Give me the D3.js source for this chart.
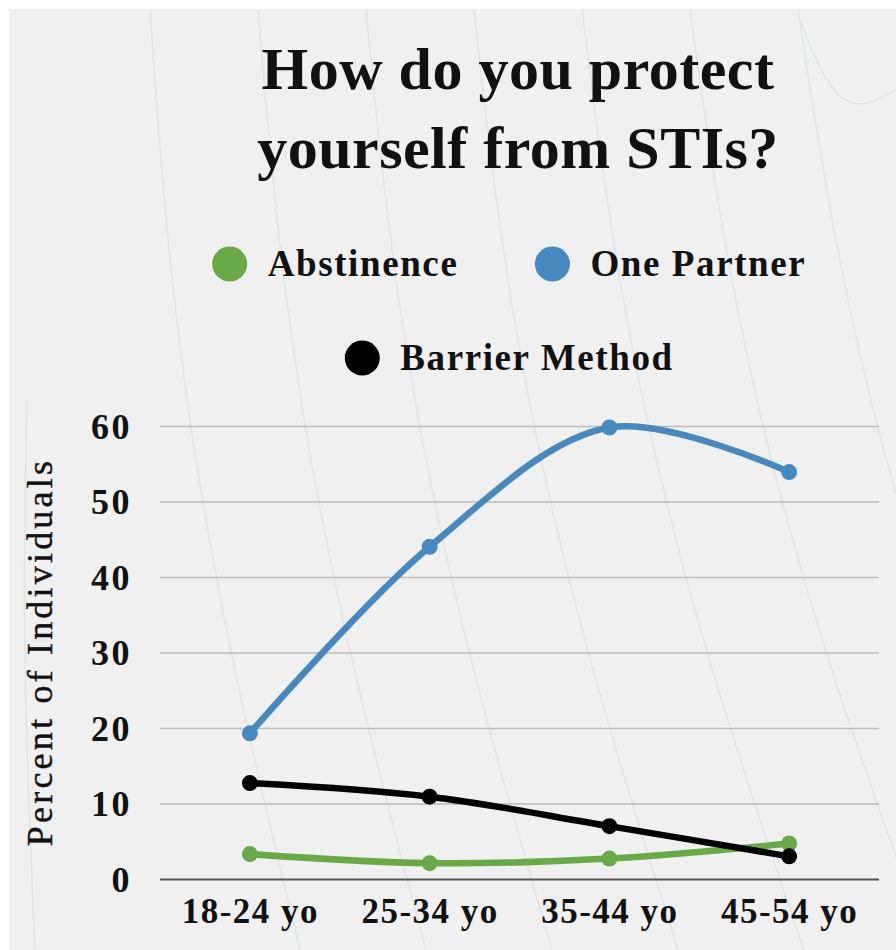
<!DOCTYPE html>
<html>
<head>
<meta charset="utf-8">
<script src="https://cdn.jsdelivr.net/npm/d3@7"></script>
<style>
  html, body { margin: 0; padding: 0; background: #fff; }
  svg { display: block; }
  text { font-family: "Liberation Serif", "Times New Roman", serif; fill: #111; }
</style>
</head>
<body>
<svg width="896" height="950"></svg>
<script>
// chart data
var titleLines = ["How do you protect", "yourself from STIs?"];
var ageGroups = ["18-24 yo", "25-34 yo", "35-44 yo", "45-54 yo"];
var abstinence = [3.3, 2.1, 2.7, 4.7];
var onePartner = [19.3, 44.0, 59.8, 53.9];
var barrierMethod = [12.7, 10.9, 7.0, 3.0];
var yTicks = [0, 10, 20, 30, 40, 50, 60];
var yLabel = "Percent of Individuals";

var series = [
    {name: "Abstinence", values: abstinence, color: "#6aa947"},
    {name: "One Partner", values: onePartner, color: "#4789bf"},
    {name: "Barrier Method", values: barrierMethod, color: "#000000"}
];

var svg = d3.select("svg"),
    width = +svg.attr("width"),
    height = +svg.attr("height");

// background panel
svg.append("rect")
    .attr("x", 9).attr("y", 9)
    .attr("width", width - 9).attr("height", height - 9)
    .attr("fill", "#f0f0f0");

// faint contour lines in the background (decoration only)
var deco = svg.append("g").attr("fill", "none")
    .attr("stroke", "#dfe5e7").attr("stroke-width", 1.5);
var contour = d3.line().curve(d3.curveBasis);
for (var i = 0; i < 12; i++) {
    var x0 = 150 + i * 108;
    deco.append("path").attr("d", contour([
        [x0, 9], [x0 + 20 + i * 4, 300], [x0 + 70 + i * 10, 620],
        [x0 + 150 + i * 18, 950]
    ]));
}
deco.append("path").attr("d", contour([[27, 400], [22, 650], [35, 950]]));
deco.append("path").attr("d", contour([[800, 20], [840, 120], [896, 90]]));

var margin = {left: 160, right: 17, top: 426, bottom: 71};

var x = d3.scalePoint()
    .domain(ageGroups)
    .range([margin.left, width - margin.right])
    .padding(0.5);

var y = d3.scaleLinear()
    .domain([0, 60])
    .range([height - margin.bottom, margin.top]);

// title
svg.append("g").selectAll("text")
    .data(titleLines)
    .enter().append("text")
    .attr("x", 518)
    .attr("y", function (d, i) { return 89 + i * 79; })
    .attr("text-anchor", "middle")
    .attr("font-size", 60)
    .attr("font-weight", "bold")
    .attr("letter-spacing", 0.5)
    .text(function (d) { return d; });

// legend: two rows, each centred
var legendRows = [[series[0], series[1]], [series[2]]];
legendRows.forEach(function (row, r) {
    var g = svg.append("g");
    var cx = 0;
    row.forEach(function (s, k) {
        var item = g.append("g").attr("transform", "translate(" + cx + ",0)");
        item.append("circle").attr("cx", 18).attr("cy", 0).attr("r", 17.5)
            .attr("fill", s.color);
        var t = item.append("text")
            .attr("x", 56).attr("y", 12)
            .attr("font-size", 37)
            .attr("font-weight", "bold")
            .attr("letter-spacing", 1.6)
            .text(s.name);
        cx += 56 + t.node().getComputedTextLength() + 76;
    });
    var w = cx - 76;
    g.attr("transform", "translate(" + (509 - w / 2) + "," + (264 + r * 94) + ")");
});

// y axis + gridlines
var yAxis = svg.append("g")
    .attr("transform", "translate(" + margin.left + ",0)")
    .call(d3.axisLeft(y)
        .tickValues(yTicks)
        .tickSize(-(width - margin.right - margin.left))
        .tickPadding(28)
        .tickFormat(d3.format("d")));
yAxis.select(".domain").remove();
yAxis.selectAll(".tick line")
    .attr("stroke", function (d) { return d === 0 ? "#555" : "#bdbdbd"; })
    .attr("stroke-width", function (d) { return d === 0 ? 2 : 1.6; });
yAxis.selectAll(".tick text")
    .attr("font-family", null)
    .attr("font-size", 36)
    .attr("font-weight", "bold")
    .attr("letter-spacing", 2.5)
    .attr("dy", "0.34em")
    .attr("fill", "#111");

// x axis labels
var xAxis = svg.append("g")
    .attr("transform", "translate(0," + (height - margin.bottom) + ")")
    .call(d3.axisBottom(x).tickSize(0));
xAxis.select(".domain").remove();
xAxis.selectAll(".tick text")
    .attr("font-family", null)
    .attr("font-size", 35)
    .attr("font-weight", "bold")
    .attr("letter-spacing", 1.5)
    .attr("y", 44)
    .attr("dy", null)
    .attr("fill", "#111");

// y axis title
svg.append("text")
    .attr("transform", "translate(52," + 652 + ") rotate(-90)")
    .attr("text-anchor", "middle")
    .attr("font-size", 36)
    .attr("letter-spacing", 3.2)
    .attr("stroke", "#111")
    .attr("stroke-width", 0.4)
    .text(yLabel);

// lines and points
var line = d3.line()
    .x(function (d, i) { return x(ageGroups[i]); })
    .y(function (d) { return y(d); })
    .curve(d3.curveCatmullRom.alpha(0.5));

var seriesG = svg.append("g").selectAll("g")
    .data(series)
    .enter().append("g");

seriesG.append("path")
    .attr("d", function (s) { return line(s.values); })
    .attr("fill", "none")
    .attr("stroke", function (s) { return s.color; })
    .attr("stroke-width", 6.5)
    .attr("stroke-linecap", "round");

seriesG.selectAll("circle")
    .data(function (s) { return s.values.map(function (v, i) { return {v: v, i: i, color: s.color}; }); })
    .enter().append("circle")
    .attr("cx", function (d) { return x(ageGroups[d.i]); })
    .attr("cy", function (d) { return y(d.v); })
    .attr("r", 8)
    .attr("fill", function (d) { return d.color; });
</script>
</body>
</html>
